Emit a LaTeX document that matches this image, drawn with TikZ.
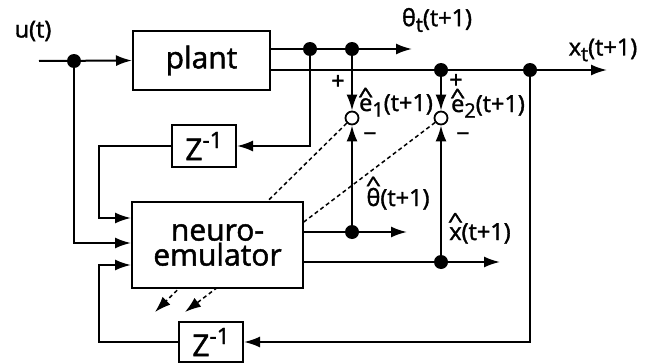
\documentclass[tikz,border=0pt]{standalone}
\usepackage{fontspec}
\setmainfont{Open Sans}[RawFeature={embolden=1.5}]
\usetikzlibrary{arrows.meta,backgrounds}
\newcommand\mysub[1]{\raisebox{-0.45ex}{\scalebox{0.85}{#1}}}
\newcommand\mysup[1]{\raisebox{0.75ex}{\scalebox{0.75}{#1}}}
\newcommand\hatit[2]{\ooalign{#2\cr\hidewidth\raisebox{#1}{\scalebox{1.15}[0.9]{\textasciicircum}}\hidewidth\cr}}
\begin{document}
\begin{tikzpicture}[x=1pt,y=-1pt, line width=2pt,
  arr/.style={-{Latex[length=16pt,width=11pt]}},
  blk/.style={draw, line width=2pt, inner sep=0pt, fill=white},
  dotn/.style={circle, fill, inner sep=0pt, minimum size=14pt},
  sumn/.style={circle, draw, fill=white, inner sep=0pt, minimum size=13pt, line width=1.8pt},
  lbl/.style={font=\fontsize{23.5}{26}\selectfont, inner sep=0pt},
  big/.style={font=\fontsize{30}{32}\selectfont},
  dsh/.style={line width=1.5pt, dash pattern=on 4pt off 3pt, -{Latex[length=16pt,width=11pt]}}]
\useasboundingbox (0,0) rectangle (648,364);
% blocks
\node[blk, minimum width=137pt, minimum height=59pt, big] (plant) at (201.5,60.5) {plant};
\node[blk, minimum width=64pt, minimum height=42pt, big] (z1) at (204,146) {Z\mysup{-1}};
\node[blk, minimum width=171pt, minimum height=86pt, big, align=center] (emu) at (217.5,245) {neuro-\\[-7pt]emulator};
\node[blk, minimum width=64pt, minimum height=40pt, big] (z2) at (211,342) {Z\mysup{-1}};
% dots and summing points
\node[dotn] (d0) at (74,61) {};
\node[dotn] (d1) at (310,49) {};
\node[dotn] (d2) at (352,49) {};
\node[dotn] (d3) at (441,70) {};
\node[dotn] (d4) at (530,70) {};
\node[dotn] (d5) at (352,232) {};
\node[dotn] (d6) at (441,262) {};
\node[sumn] (s1) at (352,118) {};
\node[sumn] (s2) at (441,118) {};
% free ends
\coordinate (in0) at (39,61);
\coordinate (eth) at (412,49);
\coordinate (ex) at (607,70);
\coordinate (ethh) at (407,232);
\coordinate (exh) at (500,262);
\coordinate (c1) at (99,218);
\coordinate (c2) at (99,265);
\coordinate (t1) at (155,312);
\coordinate (t2) at (185,312);
\coordinate (ei1) at ([yshift=27pt]emu.west);
\coordinate (ei2) at ([yshift=2pt]emu.west);
\coordinate (ei3) at ([yshift=-20pt]emu.west);
% connectors
\draw[arr] (in0) -- (plant.west);
\draw[arr] (d0.center) |- (ei2);
\draw[arr] (plant.east |- d1) -- (eth);
\draw[arr] (plant.east |- d3) -- (ex);
\draw[arr] (d1.center) |- (z1.east);
\draw[arr] (z1.west) -| (c1) -- (ei1);
\draw[arr] (d2.center) -- (s1.north);
\draw[arr] (d3.center) -- (s2.north);
\draw[arr] (emu.east |- d5) -- (ethh);
\draw[arr] (d5.center) -- (s1.south);
\draw[arr] (emu.east |- d6) -- (exh);
\draw[arr] (d6.center) -- (s2.south);
\draw[arr] (d4.center) |- (z2.east);
\draw[arr] (z2.west) -| (c2) -- (ei3);
\begin{scope}[on background layer]
\draw[dsh] (s1) -- (t1);
\draw[dsh] (s2) -- (t2);
\end{scope}
% labels
\node[lbl] (lu) at (33,31) {u(t)};
\node[lbl] (lth) at (437,20) {θ\mysub{t}(t+1)};
\node[lbl] (lx) at (603,50) {x\mysub{t}(t+1)};
\node[lbl] (lp1) at (338,82) {+};
\node[lbl] (lm1) at (370,137) {−};
\node[lbl] (lp2) at (456,81) {+};
\node[lbl] (lm2) at (463,137) {−};
\node[lbl, anchor=base] (le1) at (396,111) {\hatit{0.34em}{e}\mysub{1}(t+1)};
\node[lbl, anchor=base] (le2) at (488,112) {\hatit{0.34em}{e}\mysub{2}(t+1)};
\node[lbl, anchor=base] (lthh) at (398,206) {\hatit{0.6em}{θ}(t+1)};
\node[lbl, anchor=base] (lxh) at (480,240) {\hatit{0.5em}{x}(t+1)};
\end{tikzpicture}
\end{document}
